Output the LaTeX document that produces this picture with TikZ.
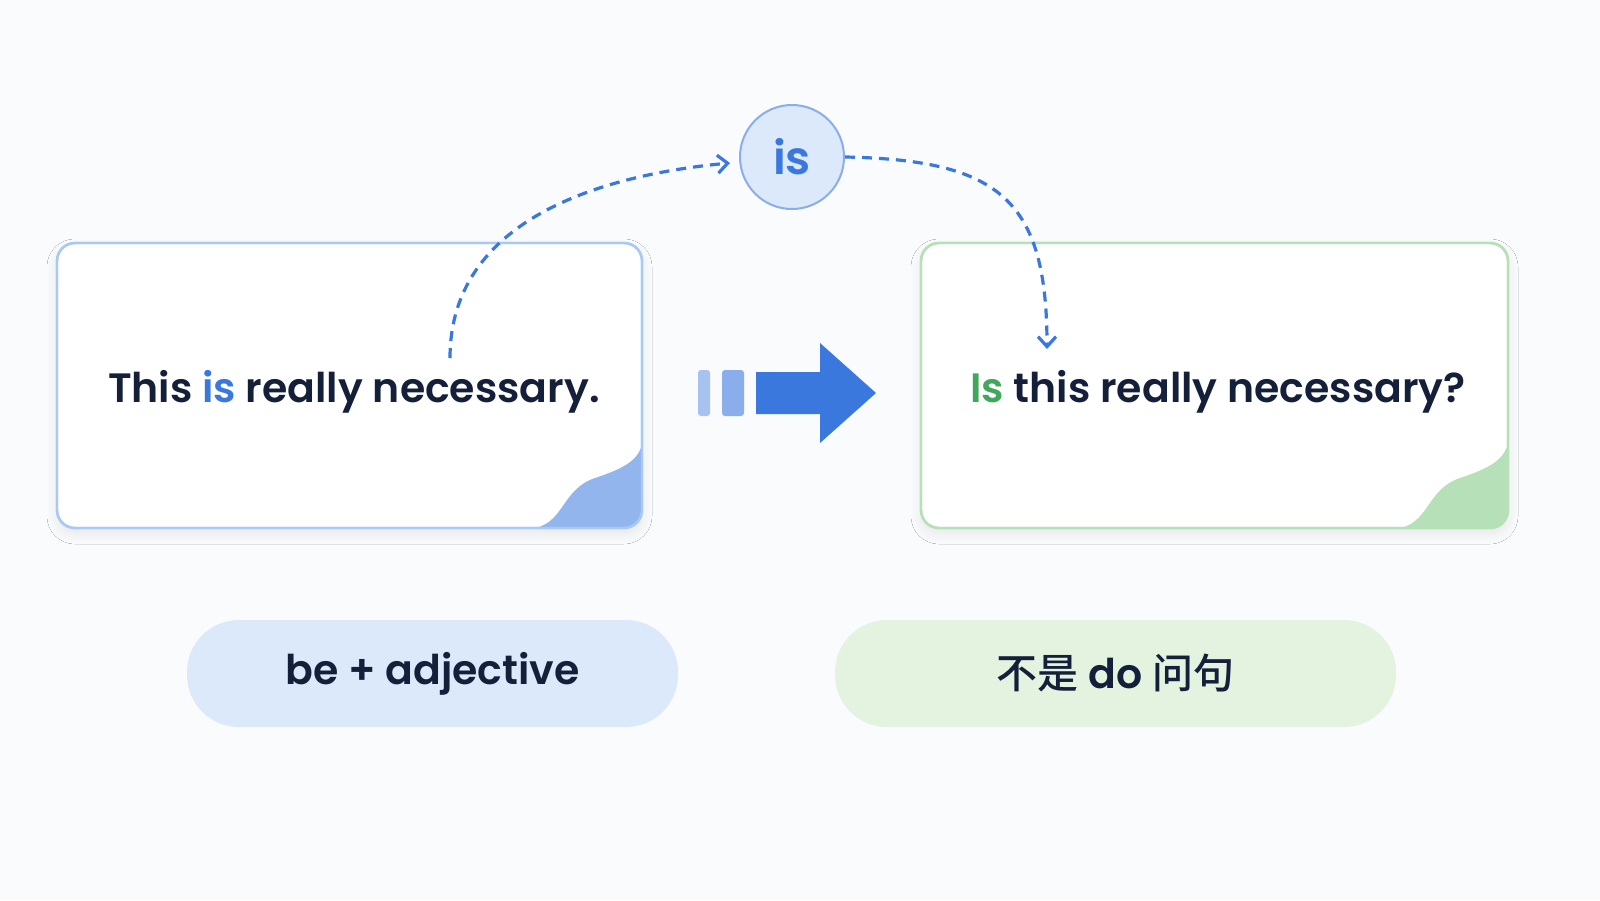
\documentclass[tikz,border=0pt]{standalone}
\usepackage{fontspec}
\setmainfont{Poppins}[UprightFont=*-Medium,BoldFont=*-SemiBold]
\newfontfamily\cjk{Noto Sans CJK SC}[BoldFont=* Medium]
\usetikzlibrary{shadows.blur,arrows.meta}
\definecolor{bg}{HTML}{FAFBFC}
\definecolor{navy}{HTML}{14203A}
\definecolor{blu}{HTML}{3A78DE}
\definecolor{lblu}{HTML}{A9C9F5}
\definecolor{pblu}{HTML}{DCE9FB}
\definecolor{grn}{HTML}{3FA85A}
\definecolor{lgrn}{HTML}{B5E0B8}
\definecolor{pgrn}{HTML}{E3F3E0}
\begin{document}
\begin{tikzpicture}[x=0.5pt,y=-0.5pt,
  card/.style={draw=#1,line width=1.2pt,fill=white,rounded corners=9pt,blur shadow={shadow xshift=0pt,shadow yshift=-3pt,shadow blur steps=10,shadow blur radius=5pt,shadow opacity=8}},
  pill/.style={fill=#1,rounded corners=26pt},
  txt/.style={font=\bfseries\fontsize{20.5}{24}\selectfont,text=navy},
  dashconn/.style={draw=blu,line width=1.6pt,dash pattern=on 5pt off 3.5pt,-{Straight Barb[length=5pt,width=9pt]}}]
\fill[bg] (0,0) rectangle (1600,900);
\path[use as bounding box] (0,0) rectangle (1600,900);
% left card
\draw[card=lblu] (57,243) rectangle (642,528);
\begin{scope}
\clip[rounded corners=9pt] (57,243) rectangle (642,528);
\fill[blu!55!white] (530,529) .. controls (565,525) and (560,490) .. (595,478) .. controls (625,468) and (640,460) .. (643,440) -- (643,529) -- cycle;
\end{scope}
\draw[lblu,line width=1.2pt,rounded corners=9pt] (57,243) rectangle (642,528);
% right card
\draw[card=lgrn] (921,243) rectangle (1508,528);
\begin{scope}
\clip[rounded corners=9pt] (921,243) rectangle (1508,528);
\fill[lgrn] (1395,529) .. controls (1430,525) and (1425,490) .. (1460,478) .. controls (1490,468) and (1505,460) .. (1509,440) -- (1509,529) -- cycle;
\end{scope}
\draw[lgrn,line width=1.2pt,rounded corners=9pt] (921,243) rectangle (1508,528);
\node[txt] (s1) at (354,392) {This \textcolor{blu}{is} really necessary.};
\node[txt] (s2) at (1218,392) {\textcolor{grn}{Is} this really necessary?};
% circle
\node[circle,draw=blu!60!white,line width=1pt,fill=pblu,minimum size=52pt,font=\bfseries\fontsize{23}{26}\selectfont,text=blu] (is) at (792,157) {is};
\coordinate (a1) at (450,358);
\coordinate (a2) at (1047,349);
\coordinate (c1) at (730,163);
\draw[dashconn] (a1) .. controls (450,220) and (600,175) .. (c1);
\draw[dashconn] (is.east) .. controls (1000,160) and (1047,200) .. (a2);
% middle arrow
\fill[blu!45!white,rounded corners=1.5pt] (698,370) rectangle (710,416);
\fill[blu!60!white,rounded corners=1.5pt] (722,370) rectangle (744,416);
\fill[blu] (756,372) -- (820,372) -- (820,343) -- (876,393) -- (820,443) -- (820,414) -- (756,414) -- cycle;
% pills
\node[pill=pblu,minimum width=245.5pt,minimum height=53.5pt,txt] (p1) at (432.5,673.5) {be + adjective};
\node[pill=pgrn,minimum width=280.5pt,minimum height=53.5pt,txt] (p2) at (1115.5,673.5) {{\cjk\bfseries 不是} do {\cjk\bfseries 问句}};
\end{tikzpicture}
\end{document}
